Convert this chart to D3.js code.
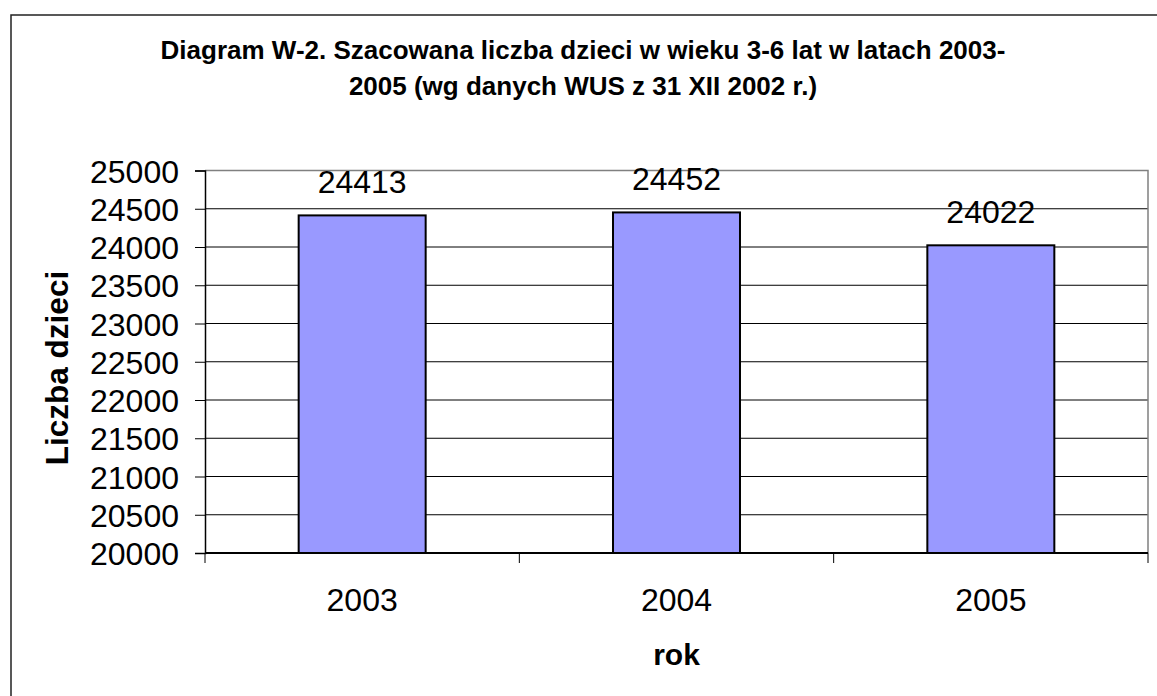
<!DOCTYPE html>
<html>
<head>
<meta charset="utf-8">
<script src="https://cdn.jsdelivr.net/npm/d3@7"></script>
<style>
  body { margin: 0; background: #fff; }
  svg { display: block; font-family: "Liberation Sans", Arial, sans-serif; }
</style>
</head>
<body>
<svg id="chart" width="1157" height="696"></svg>
<script>
// data
const years = ["2003", "2004", "2005"];
const children = [24413, 24452, 24022];
const yTicks = [20000, 20500, 21000, 21500, 22000, 22500, 23000, 23500, 24000, 24500, 25000];
const titleLines = [
  "Diagram W-2. Szacowana liczba dzieci w wieku 3-6 lat w latach 2003-",
  "2005 (wg danych WUS z 31 XII 2002 r.)"
];

const svg = d3.select("#chart");
const plot = { left: 205, right: 1148, top: 170.5, bottom: 553 };

// outer frame, runs off the right and bottom edge
svg.append("rect")
  .attr("x", 11).attr("y", 15)
  .attr("width", 1300).attr("height", 800)
  .attr("fill", "none")
  .attr("stroke", "#222")
  .attr("stroke-width", 1.5);

svg.append("g").selectAll("text")
  .data(titleLines)
  .enter()
  .append("text")
  .attr("x", 583)
  .attr("y", (d, i) => 59 + i * 36)
  .attr("text-anchor", "middle")
  .attr("font-weight", "bold")
  .attr("font-size", 26)
  .text(d => d);

const x = d3.scaleBand()
  .domain(years)
  .range([plot.left, plot.right])
  .paddingInner(0.596)
  .paddingOuter(0.298);

const y = d3.scaleLinear()
  .domain([20000, 25000])
  .range([plot.bottom, plot.top]);

// gridlines
svg.append("g").selectAll("line")
  .data(yTicks.slice(1, -1))
  .enter()
  .append("line")
  .attr("x1", plot.left).attr("x2", plot.right)
  .attr("y1", d => y(d)).attr("y2", d => y(d))
  .attr("stroke", "#000")
  .attr("stroke-width", 1);

// plot area border (top and right)
svg.append("path")
  .attr("d", `M${plot.left},${plot.top}H${plot.right}V${plot.bottom}`)
  .attr("fill", "none")
  .attr("stroke", "#808080")
  .attr("stroke-width", 1.5);

// bars
svg.append("g").selectAll("rect")
  .data(children)
  .enter()
  .append("rect")
  .attr("x", (d, i) => x(years[i]))
  .attr("y", d => y(d))
  .attr("width", x.bandwidth())
  .attr("height", d => plot.bottom - y(d))
  .attr("fill", "#9999FF")
  .attr("stroke", "#000")
  .attr("stroke-width", 2);

// value labels
svg.append("g").selectAll("text")
  .data(children)
  .enter()
  .append("text")
  .attr("x", (d, i) => x(years[i]) + x.bandwidth() / 2)
  .attr("y", d => y(d) - 22)
  .attr("text-anchor", "middle")
  .attr("font-size", 32)
  .text(d => d);

// y axis
const yAxis = svg.append("g")
  .attr("transform", `translate(${plot.left},0)`)
  .call(d3.axisLeft(y).tickValues(yTicks).tickFormat(d3.format("d")).tickSize(10).tickPadding(16));
yAxis.select(".domain").attr("stroke", "#000").attr("stroke-width", 1.5);
yAxis.selectAll(".tick line").attr("stroke", "#000");
yAxis.selectAll(".tick text")
  .attr("font-size", 32)
  .attr("font-family", "Liberation Sans, Arial, sans-serif")
  .attr("fill", "#000")
  .attr("dy", "0.36em");

// x axis: ticks sit between categories
const xAxisG = svg.append("g")
  .attr("transform", `translate(0,${plot.bottom})`);
xAxisG.append("line")
  .attr("x1", plot.left).attr("x2", plot.right)
  .attr("stroke", "#000").attr("stroke-width", 2);
const bounds = years.map(d => x(d) - x.step() * x.paddingOuter()).concat([plot.right]);
xAxisG.selectAll("line.tk")
  .data(bounds)
  .enter()
  .append("line")
  .attr("class", "tk")
  .attr("x1", d => d).attr("x2", d => d)
  .attr("y1", 0).attr("y2", 10)
  .attr("stroke", "#000");
xAxisG.selectAll("text")
  .data(years)
  .enter()
  .append("text")
  .attr("x", d => x(d) + x.bandwidth() / 2)
  .attr("y", 58)
  .attr("text-anchor", "middle")
  .attr("font-size", 32)
  .text(d => d);

// axis titles
svg.append("text")
  .attr("x", (plot.left + plot.right) / 2)
  .attr("y", 665)
  .attr("text-anchor", "middle")
  .attr("font-weight", "bold")
  .attr("font-size", 30)
  .text("rok");

svg.append("text")
  .attr("transform", `translate(68,368) rotate(-90)`)
  .attr("text-anchor", "middle")
  .attr("font-weight", "bold")
  .attr("font-size", 31.5)
  .text("Liczba dzieci");
</script>
</body>
</html>
